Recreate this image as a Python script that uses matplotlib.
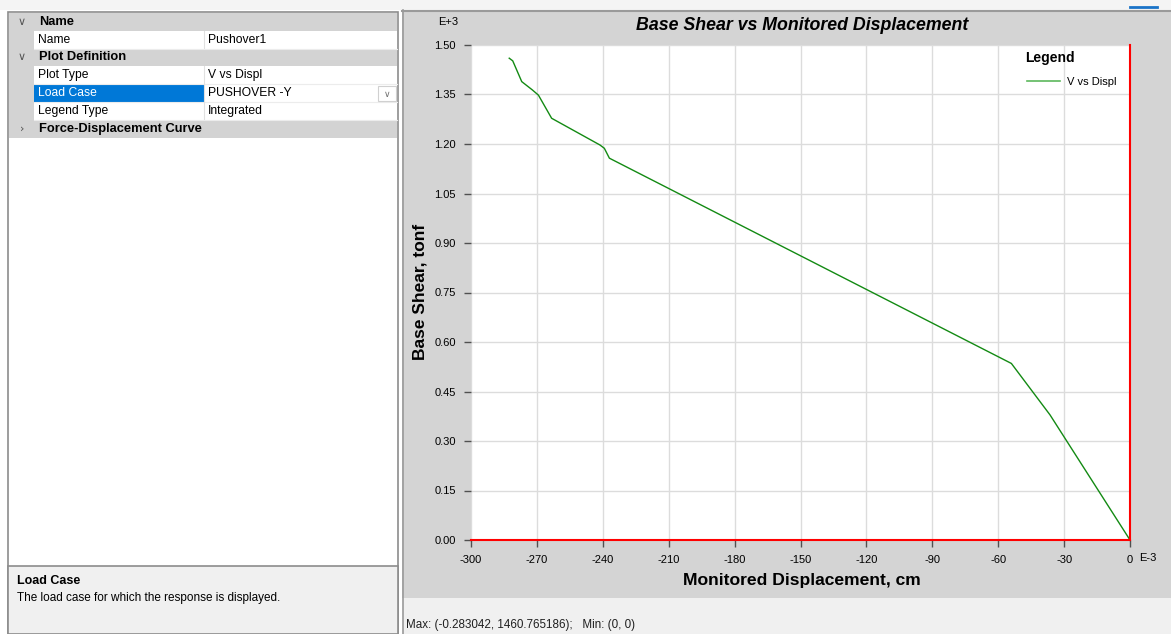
import matplotlib
matplotlib.use("Agg")
import matplotlib.pyplot as plt
from matplotlib.patches import Rectangle
import numpy as np

# ---------------- data ----------------
disp = [-282.6, -281.0, -276.9, -272.1, -269.3, -263.3, -241.3, -239.3, -237.0,
        -54.0, -36.4, 0.0]          # E-3 cm
shear = [1.460, 1.452, 1.389, 1.364, 1.348, 1.278, 1.197, 1.187, 1.157,
         0.535, 0.379, 0.0]         # E+3 tonf
x_ticks = [-300, -270, -240, -210, -180, -150, -120, -90, -60, -30, 0]
y_ticks = [0.00, 0.15, 0.30, 0.45, 0.60, 0.75, 0.90, 1.05, 1.20, 1.35, 1.50]
title = "Base Shear vs Monitored Displacement"
x_label = "Monitored Displacement, cm"
y_label = "Base Shear, tonf"
series_name = "V vs Displ"
grid_rows = [("Name", None, True), ("Name", "Pushover1", False),
             ("Plot Definition", None, True), ("Plot Type", "V vs Displ", False),
             ("Load Case", "PUSHOVER -Y", False), ("Legend Type", "Integrated", False),
             ("Force-Displacement Curve", None, True)]
status_text = "Max: (-0.283042, 1460.765186);   Min: (0, 0)"

W, H = 1171, 634
fig = plt.figure(figsize=(W / 100, H / 100), dpi=100)
fig.patch.set_facecolor("white")

ui = fig.add_axes([0, 0, 1, 1])
ui.set_xlim(0, W)
ui.set_ylim(H, 0)
ui.axis("off")
ui.set_zorder(0)

UI_FONT = ["Liberation Sans", "DejaVu Sans"]
NARROW = ["Liberation Sans Narrow", "Liberation Sans", "DejaVu Sans"]

def rect(x0, y0, x1, y1, fc, ec="none", lw=0.0, z=1):
    ui.add_patch(Rectangle((x0, y0), x1 - x0, y1 - y0, facecolor=fc,
                           edgecolor=ec, linewidth=lw, zorder=z))

# top strip
rect(0, 0, W, 10, "#f4f4f4")
ui.plot([1130, 1157], [7, 7], color="#1a73c8", lw=2, zorder=3)

# ---------- left property panel ----------
rect(8, 12, 398, 634, "white", ec="#8c8c8c", lw=1.2)
row_h = 17.8
y0 = 13
for i, (label, value, header) in enumerate(grid_rows):
    ya = y0 + i * row_h
    yb = ya + row_h
    yc = (ya + yb) / 2
    if header:
        rect(9, ya, 397, yb, "#d3d3d3", z=2)
        chev = "\u2228" if label != "Force-Displacement Curve" else "\u203a"
        ui.text(22, yc, chev, ha="center", va="center", fontsize=8,
                color="#555555", family=["DejaVu Sans"], zorder=4)
        ui.text(39, yc, label, ha="left", va="center", fontsize=9.3,
                fontweight="bold", family=UI_FONT, color="black", zorder=4)
    else:
        rect(9, ya, 34, yb, "#d3d3d3", z=2)
        selected = label == "Load Case"
        rect(34, ya, 204, yb, "#0078d7" if selected else "white", z=2)
        rect(204, ya, 397, yb, "white", z=2)
        ui.plot([204, 204], [ya, yb], color="#e0e0e0", lw=0.8, zorder=3)
        ui.plot([34, 397], [yb, yb], color="#ececec", lw=0.8, zorder=3)
        ui.text(38, yc, label, ha="left", va="center", fontsize=8.7,
                family=UI_FONT, color="white" if selected else "black", zorder=4)
        ui.text(208, yc, value, ha="left", va="center", fontsize=8.7,
                family=UI_FONT, color="black", zorder=4)
        if selected:
            rect(378, ya + 1.5, 396, yb - 1.5, "white", ec="#d0d0d0", lw=0.8, z=3)
            ui.text(387, yc + 1, "\u2228", ha="center", va="center", fontsize=6.5,
                    color="#707070", family=["DejaVu Sans"], zorder=4)

# description box
rect(8, 566, 398, 634, "#f0f0f0", ec="#8c8c8c", lw=1.2, z=2)
ui.text(17, 581, "Load Case", ha="left", va="center", fontsize=9,
        fontweight="bold", family=UI_FONT, zorder=4)
ui.text(17, 598, "The load case for which the response is displayed.", ha="left",
        va="center", fontsize=8.5, family=UI_FONT, zorder=4)

# ---------- right chart panel ----------
rect(402, 10, W, 598, "#d4d4d4", z=1)
ui.plot([402, W], [10.5, 10.5], color="#9a9a9a", lw=1.5, zorder=2)
ui.plot([402.5, 402.5], [10, 634], color="#9a9a9a", lw=1.2, zorder=2)
rect(403, 598, W, H, "#f0f0f0", z=1)
ui.text(406, 625, status_text, ha="left", va="center", fontsize=8.4,
        family=NARROW, color="#202020", zorder=4)
ui.text(802, 26, title, ha="center", va="center", fontsize=12.8,
        fontweight="bold", fontstyle="italic", family=NARROW, zorder=4)
ui.text(448, 22, "E+3", ha="center", va="center", fontsize=8, family=NARROW, zorder=4)
ui.text(1148, 558, "E-3", ha="center", va="center", fontsize=8, family=NARROW, zorder=4)
ui.text(802, 580, x_label, ha="center", va="center", fontsize=12.6,
        fontweight="bold", family=NARROW, zorder=4)
ui.text(420, 292, y_label, ha="center", va="center", rotation=90, fontsize=12.5,
        fontweight="bold", family=NARROW, zorder=4)

# ---------- plot axes ----------
L, R, T, B = 471, 1130, 45, 540
ax = fig.add_axes([L / W, 1 - B / H, (R - L) / W, (B - T) / H])
ax.set_zorder(1)
ax.set_facecolor("white")
ax.plot(disp, shear, color="#138a13", lw=1.0, zorder=3, label=series_name)
ax.set_xlim(-300, 0)
ax.set_ylim(0, 1.5)
ax.set_xticks(x_ticks)
ax.set_xticklabels([str(v) for v in x_ticks])
ax.set_yticks(y_ticks)
ax.set_yticklabels([f"{v:.2f}" for v in y_ticks])
ax.grid(True, color="#dcdcdc", lw=1.0, zorder=0)
ax.set_axisbelow(True)
for s in ["left", "top"]:
    ax.spines[s].set_visible(False)
for s in ["right", "bottom"]:
    ax.spines[s].set_color("#ff0000")
    ax.spines[s].set_linewidth(1.5)
    ax.spines[s].set_zorder(4)
ax.tick_params(direction="out", length=5, width=1, color="#505050",
               labelsize=8, pad=6)
for lab in ax.get_xticklabels() + ax.get_yticklabels():
    lab.set_family(NARROW)

# integrated legend
ax.text(1050, 58, "Legend", transform=ui.transData, ha="center", va="center",
        fontsize=10, fontweight="bold", family=NARROW, zorder=5)
leg = ax.legend(loc="center left", bbox_to_anchor=(1027, 82),
                bbox_transform=ui.transData, frameon=False, borderpad=0,
                borderaxespad=0, handlelength=3.0, handletextpad=0.6,
                prop={"family": NARROW, "size": 8})
for h in leg.legend_handles:
    h.set_color("#5cb85c")
    h.set_linewidth(1.2)

fig.savefig("out.png", dpi=100)
